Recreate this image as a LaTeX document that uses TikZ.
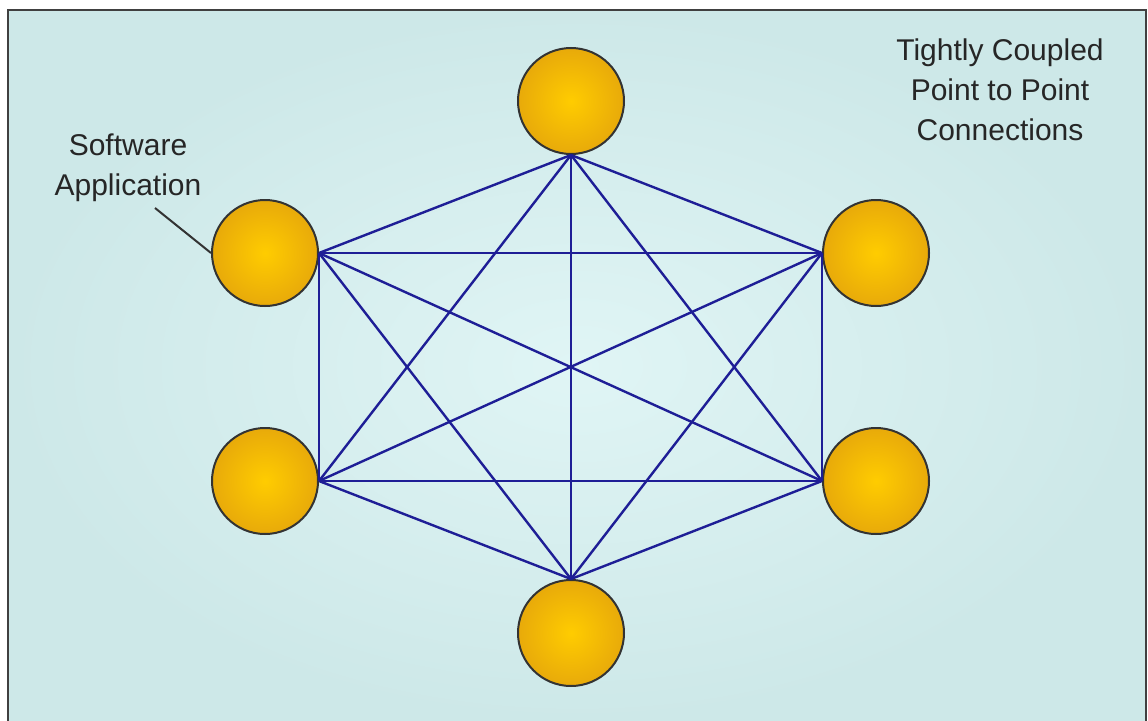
\documentclass[tikz,border=0pt]{standalone}
\usepackage{fontspec}
\setmainfont{Liberation Sans}
\definecolor{bgin}{RGB}{224,245,245}
\definecolor{bgout}{RGB}{205,232,232}
\definecolor{goldin}{RGB}{255,204,0}
\definecolor{goldout}{RGB}{232,170,10}
\definecolor{linkblue}{RGB}{30,30,150}
\begin{document}
\begin{tikzpicture}[x=1pt,y=-1pt,
  app/.style={circle,minimum size=106pt,inner sep=0pt,draw=black!80,line width=2pt,
    inner color=goldin,outer color=goldout},
  link/.style={draw=linkblue,line width=2.4pt},
  lbl/.style={font=\fontsize{30}{40}\selectfont,text=black!85,align=center}]
\useasboundingbox (0,0) rectangle (1148,720);
\fill[white] (0,0) rectangle (1148,720);
\shade[inner color=bgin,outer color=bgout] (8,10) rectangle (1146,722);
\draw[black!75,line width=2.5pt] (8,724) -- (8,10) -- (1146,10) -- (1146,724);
\node[app] (t) at (571,101) {};
\node[app] (ul) at (265,253) {};
\node[app] (ur) at (876,253) {};
\node[app] (ll) at (265,481) {};
\node[app] (lr) at (876,481) {};
\node[app] (b) at (571,633) {};
\coordinate (pt) at (t.south);
\coordinate (pul) at (ul.east);
\coordinate (pur) at (ur.west);
\coordinate (pll) at (ll.east);
\coordinate (plr) at (lr.west);
\coordinate (pb) at (b.north);
\foreach \a/\b in {pt/pul,pt/pur,pt/pll,pt/plr,pt/pb,pul/pur,pul/pll,pul/plr,pul/pb,pur/pll,pur/plr,pur/pb,pll/plr,pll/pb,plr/pb}
  \draw[link] (\a) -- (\b);
\node[lbl] (sw) at (128,168) {Software\\Application};
\draw[black!80,line width=2pt] (155,208) -- (ul.west);
\node[lbl] (tc) at (1000,90) {Tightly Coupled\\Point to Point\\Connections};
\end{tikzpicture}
\end{document}
